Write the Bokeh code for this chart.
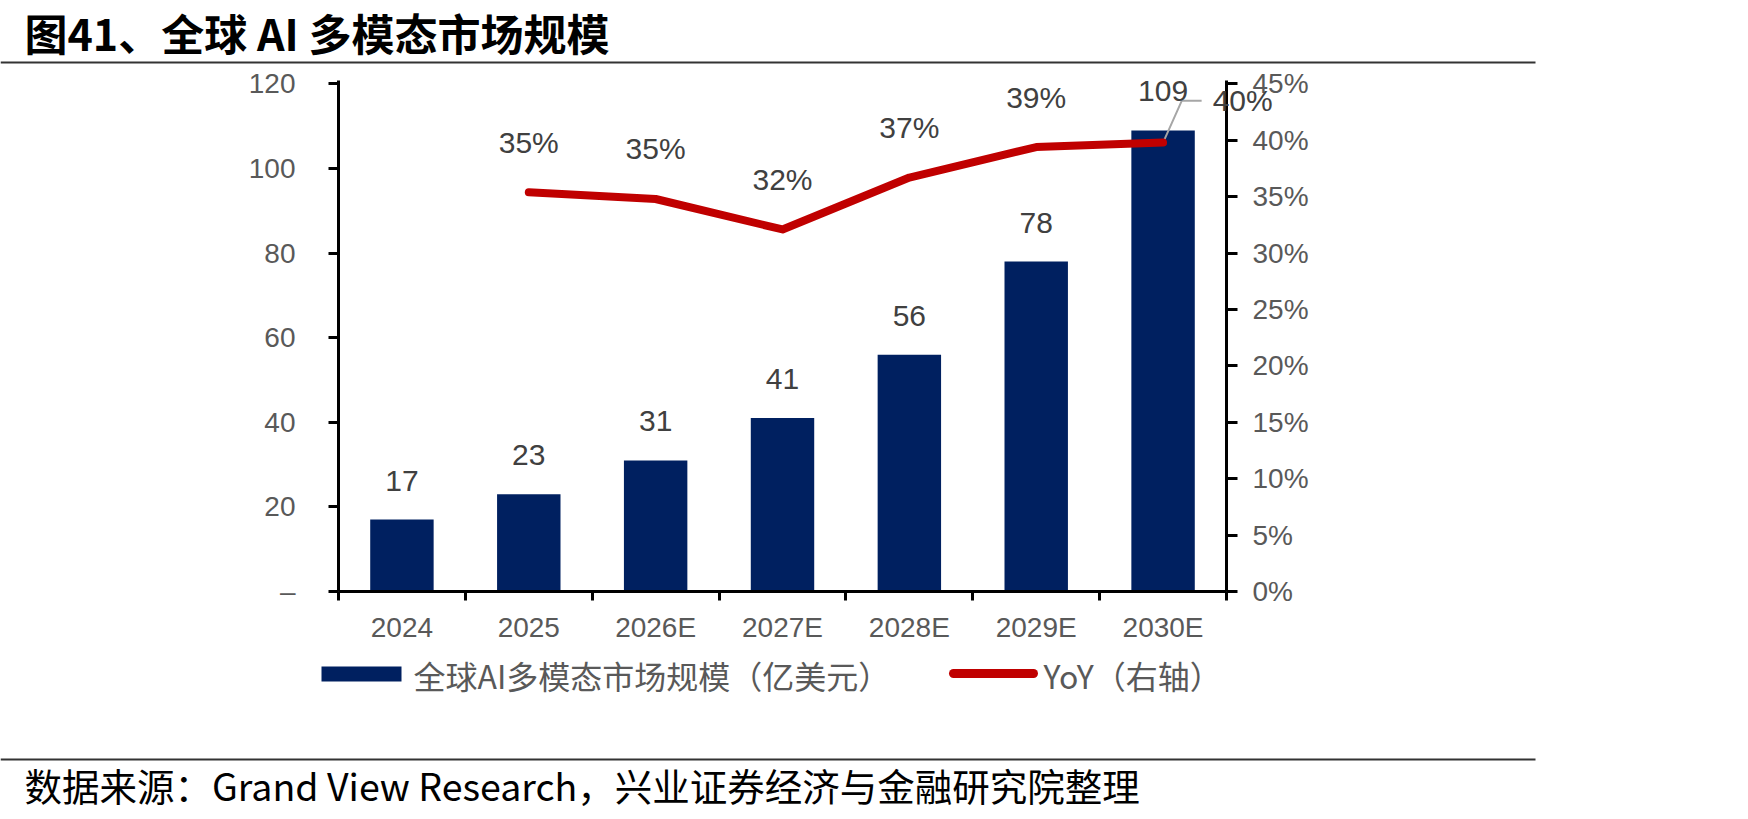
from bokeh.plotting import figure
from bokeh.models import (Range1d, LinearAxis, FixedTicker, NumeralTickFormatter,
                          ColumnDataSource, LabelSet, Label)
from bokeh.layouts import column
from bokeh.embed import file_html
from bokeh.resources import INLINE
from bokeh.core.properties import value

# ---- data -------------------------------------------------------------
title_text = "图41、全球 AI 多模态市场规模"
source_text = "数据来源：Grand View Research，兴业证券经济与金融研究院整理"
years = ["2024", "2025", "2026E", "2027E", "2028E", "2029E", "2030E"]
market_size = [17, 23, 31, 41, 56, 78, 109]              # 亿美元
yoy = [None, 0.354, 0.348, 0.321, 0.367, 0.394, 0.398]    # 同比增速
bar_series_name = "全球AI多模态市场规模（亿美元）"
line_series_name = "YoY（右轴）"
left_ticks = [0, 20, 40, 60, 80, 100, 120]
left_tick_labels = {0: "–"}
right_ticks = [0, 0.05, 0.10, 0.15, 0.20, 0.25, 0.30, 0.35, 0.40, 0.45]

# ---- styling ----------------------------------------------------------
W = 1748
HEADER_H, MAIN_H, FOOTER_H = 66, 579, 174
NAVY = "#002060"
RED = "#C00000"
GREY_TXT = "#595959"
LABEL_TXT = "#404040"
NUM_FONT = "Liberation Sans"
CJK_FONT = "Noto Sans CJK SC"
TOP_PAD = 1.0068          # a little head-room above the top tick


def blank(height, y_top):
    """A borderless figure whose data coordinates equal page pixels."""
    f = figure(width=W, height=height, x_range=Range1d(0, W),
               y_range=Range1d(y_top + height, y_top), title=None,
               toolbar_location=None, output_backend="svg",
               x_axis_location=None, y_axis_location=None, min_border=0,
               frame_align=False)
    f.grid.visible = False
    f.outline_line_color = None
    f.background_fill_color = "white"
    f.border_fill_color = "white"
    return f


# ---- header: title and rule -------------------------------------------
header = blank(HEADER_H, 0)
header.text(x=[24], y=[31], text=[title_text], text_font=value(CJK_FONT),
            text_font_style="bold", text_font_size="43px",
            text_baseline="middle", text_color="black")
header.segment(x0=[0], y0=[62], x1=[1535], y1=[62],
               line_width=2, line_color="#333333")

# ---- main chart -------------------------------------------------------
n = len(years)
x_centers = [i + 0.5 for i in range(n)]

p = figure(width=W, height=MAIN_H, x_range=Range1d(0, n),
           y_range=Range1d(0, left_ticks[-1] * TOP_PAD), title=None,
           toolbar_location=None, output_backend="svg", frame_align=False,
           min_border_left=338, min_border_right=522,
           min_border_top=14, min_border_bottom=52)
p.grid.visible = False
p.outline_line_color = None
p.extra_y_ranges = {"pct": Range1d(0, right_ticks[-1] * TOP_PAD)}

# category axis: labels at bar centres, ticks at category boundaries
xa = p.xaxis[0]
xa.ticker = FixedTicker(ticks=x_centers, minor_ticks=list(range(n + 1)))
xa.major_label_overrides = {x: y for x, y in zip(x_centers, years)}
xa.major_tick_out = 0
xa.major_tick_in = 0
xa.major_tick_line_color = None
xa.minor_tick_out = 9
xa.minor_tick_in = 0
xa.minor_tick_line_width = 3
xa.minor_tick_line_color = "black"
xa.major_label_standoff = 11

ya = p.yaxis[0]
ya.ticker = FixedTicker(ticks=left_ticks)
ya.major_label_overrides = left_tick_labels
ya.major_tick_out = 10
ya.major_label_standoff = 33

ra = LinearAxis(y_range_name="pct", ticker=FixedTicker(ticks=right_ticks),
                formatter=NumeralTickFormatter(format="0%"))
ra.major_tick_out = 11
ra.major_label_standoff = 15
p.add_layout(ra, "right")

for ax in (xa, ya, ra):
    ax.axis_line_width = 3
    ax.axis_line_color = "black"
    ax.major_label_text_font = NUM_FONT
    ax.major_label_text_font_size = "28px"
    ax.major_label_text_color = GREY_TXT
for ax in (ya, ra):
    ax.major_tick_in = 0
    ax.major_tick_line_width = 3
    ax.major_tick_line_color = "black"
    ax.minor_tick_line_color = None

# bars
bar_src = ColumnDataSource(dict(x=x_centers, size=market_size,
                                label=[str(v) for v in market_size]))
p.vbar(x="x", top="size", bottom=0, width=0.5, source=bar_src,
       fill_color=NAVY, line_color=None)
p.add_layout(LabelSet(x="x", y="size", text="label", source=bar_src,
                      y_offset=39, text_align="center", text_baseline="middle",
                      text_font=value(NUM_FONT), text_font_size="30px",
                      text_color=LABEL_TXT))

# growth line (right axis)
line_x = [x for x, v in zip(x_centers, yoy) if v is not None]
line_y = [v for v in yoy if v is not None]

# callout for the final point
lx, ly = line_x[-1], line_y[-1]
CALLOUT_DY = 0.037
p.line(x=[lx, lx + 0.147, lx + 0.304], y=[ly, ly + CALLOUT_DY, ly + CALLOUT_DY],
       y_range_name="pct", line_color="#A6A6A6", line_width=2)

p.line(x=line_x, y=line_y, y_range_name="pct", line_color=RED,
       line_width=8, line_cap="round", line_join="round")

yoy_src = ColumnDataSource(dict(x=line_x[:-1], y=line_y[:-1],
                                label=[f"{v:.0%}" for v in line_y[:-1]]))
p.add_layout(LabelSet(x="x", y="y", text="label", source=yoy_src,
                      y_range_name="pct", y_offset=50,
                      text_align="center", text_baseline="middle",
                      text_font=value(NUM_FONT), text_font_size="30px",
                      text_color=LABEL_TXT))
# the last growth label sits across the right axis, so it lives in the side panel
p.add_layout(Label(x=lx + 0.391, y=ly + CALLOUT_DY, y_range_name="pct",
                   text=f"{ly:.0%}", text_align="left", text_baseline="middle",
                   text_font=NUM_FONT, text_font_size="30px",
                   text_color=LABEL_TXT), "right")

# ---- footer: legend, rule, source --------------------------------------
footer = blank(FOOTER_H, HEADER_H + MAIN_H)
footer.quad(left=[321], right=[401], top=[666], bottom=[681],
            fill_color=NAVY, line_color=None)
footer.text(x=[413], y=[674], text=[bar_series_name], text_font=value(CJK_FONT),
            text_font_size="32px", text_baseline="middle", text_color=GREY_TXT)
footer.line(x=[953, 1033], y=[673, 673], line_color=RED, line_width=9,
            line_cap="round")
footer.text(x=[1043], y=[674], text=[line_series_name], text_font=value(CJK_FONT),
            text_font_size="32px", text_baseline="middle", text_color=GREY_TXT)
footer.segment(x0=[0], y0=[759], x1=[1535], y1=[759],
               line_width=2, line_color="#333333")
footer.text(x=[24], y=[784], text=[source_text], text_font=value(CJK_FONT),
            text_font_size="37.5px", text_baseline="middle", text_color="black")

layout = column(header, p, footer, spacing=0)
open("out.html", "w").write(file_html(layout, INLINE))
